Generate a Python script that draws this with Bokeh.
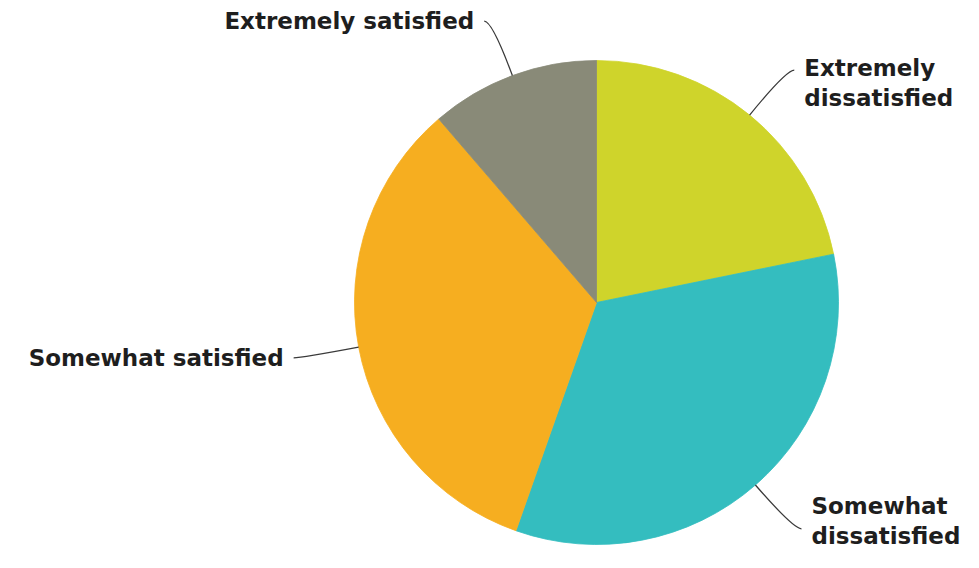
import math
from bokeh.plotting import figure
from bokeh.models import Range1d, ColumnDataSource
from bokeh.core.properties import value
from bokeh.embed import file_html
from bokeh.resources import INLINE

# ---- data ----
categories = ["Extremely dissatisfied", "Somewhat dissatisfied",
              "Somewhat satisfied", "Extremely satisfied"]
label_texts = ["Extremely\ndissatisfied", "Somewhat\ndissatisfied",
               "Somewhat satisfied", "Extremely satisfied"]
shares = [21.8, 33.6, 33.3, 11.3]
colors = ["#cfd42b", "#34bdbf", "#f6ae20", "#898a78"]

# ---- layout ----
W, H = 963, 552
Y_TOP = 568
CX, CY, R = 596, Y_TOP - 302, 242
ELBOW = 58
TAIL = 8
GAP = 10
FONT_PX = 23
LINE_H = 1.15

p = figure(width=W, height=H, x_range=Range1d(0, W), y_range=Range1d(Y_TOP - H, Y_TOP),
           output_backend="svg", toolbar_location=None,
           x_axis_location=None, y_axis_location=None,
           min_border=0, min_border_left=0, min_border_right=0,
           min_border_top=0, min_border_bottom=0)
p.grid.visible = False
p.outline_line_color = None
p.background_fill_color = "white"
p.border_fill_color = "white"

total = sum(shares)
starts, ends, mids = [], [], []
cum = 0.0
for v in shares:
    a0 = math.pi / 2 - 2 * math.pi * cum / total
    a1 = math.pi / 2 - 2 * math.pi * (cum + v) / total
    starts.append(a0)
    ends.append(a1)
    mids.append((a0 + a1) / 2)
    cum += v

src = ColumnDataSource(dict(start=starts, end=ends, color=colors, cat=categories))
p.wedge(x=CX, y=CY, radius=R, start_angle="start", end_angle="end",
        direction="clock", fill_color="color", line_color="color", line_width=0.8,
        source=src)

x0s, y0s, cxs, cys, x1s, y1s = [], [], [], [], [], []
tx, ty, al = [], [], []
bottom_limit = Y_TOP - H + 5
for m, t in zip(mids, label_texts):
    c, s = math.cos(m), math.sin(m)
    sign = 1 if c >= 0 else -1
    px0, py0 = CX + R * c, CY + R * s
    pex, pey = CX + (R + ELBOW) * c, CY + (R + ELBOW) * s
    px1, py1 = pex + sign * TAIL, pey
    x0s.append(px0); y0s.append(py0)
    cxs.append(pex); cys.append(pey)
    x1s.append(px1); y1s.append(py1)
    nlines = t.count("\n") + 1
    lh = FONT_PX * LINE_H
    yc = py1 - (nlines - 1) * lh / 2
    half = nlines * lh / 2
    if yc - half < bottom_limit:
        yc = bottom_limit + half
    tx.append(px1 + sign * GAP)
    ty.append(yc)
    al.append("left" if sign > 0 else "right")

p.quadratic(x0=x0s, y0=y0s, x1=x1s, y1=y1s, cx=cxs, cy=cys,
            line_color="#3a3a3a", line_width=1.3)

lsrc = ColumnDataSource(dict(x=tx, y=ty, text=label_texts, align=al))
p.text(x="x", y="y", text="text", text_align="align", text_baseline="middle",
       text_font=value("DejaVu Sans"), text_font_style="bold",
       text_font_size=f"{FONT_PX}px", text_color="#1e1e1e",
       text_line_height=LINE_H, source=lsrc)

open("out.html", "w").write(file_html(p, INLINE))
